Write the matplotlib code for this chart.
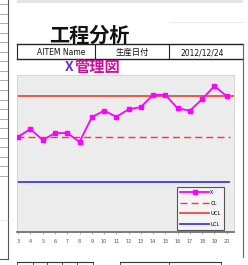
import numpy as np
import matplotlib
matplotlib.use('Agg')
import matplotlib.pyplot as plt
from matplotlib.lines import Line2D
from matplotlib.patches import Rectangle

plt.rcParams['font.family'] = ['Noto Sans CJK JP', 'DejaVu Sans']

# data
sample_no = [3, 4, 5, 6, 7, 8, 9, 10, 11, 12, 13, 14, 15, 16, 17, 18, 19, 20]
x_vals = [20.2, 21.9, 19.4, 21.0, 21.0, 19.0, 24.6, 26.1, 24.7,
          26.4, 26.9, 29.7, 29.7, 26.6, 26.1, 28.7, 31.7, 29.4]
ucl = 29.4
cl = 20.0
lcl = 9.9

W, H = 248, 265

def fx(x):
    return x / W

def fy(y):
    return 1 - y / H

def hline(fig, x0, x1, y, **kw):
    fig.add_artist(Line2D([fx(x0), fx(x1)], [fy(y), fy(y)], **kw))

def vline(fig, x, y0, y1, **kw):
    fig.add_artist(Line2D([fx(x), fx(x)], [fy(y0), fy(y1)], **kw))

fig = plt.figure(figsize=(W / 100, H / 100), dpi=100)
fig.patch.set_facecolor('white')

# spreadsheet bits around the chart
for yy in np.arange(4, 180, 9.55):
    hline(fig, 0, 8, yy, color='#9a9a9a', lw=0.6)
vline(fig, 8, 0, 259, color='#555555', lw=0.8)
hline(fig, 0, 8, 259, color='#555555', lw=0.8)
hline(fig, 0, 8, 220, color='#bbbbbb', lw=0.5, ls=':')
fig.add_artist(Rectangle((fx(17), fy(3)), fx(226), 3 / H, color='#e4e4e4', lw=0))
hline(fig, 170, 243, 22, color='#e6e6e6', lw=0.6)

# title + header table
fig.text(fx(49), fy(35), '工程分析', fontsize=14.5, fontweight='bold',
         ha='left', va='center', color='#111111')
hline(fig, 17, 243, 44, color='#222222', lw=1.0)
hline(fig, 17, 243, 59, color='#222222', lw=1.0)
vline(fig, 17, 44, 59, color='#222222', lw=0.8)
vline(fig, 95, 44, 59, color='#222222', lw=0.8)
vline(fig, 169, 44, 59, color='#222222', lw=0.8)
vline(fig, 243, 44, 257, color='#666666', lw=0.8)
fig.text(fx(61), fy(52.5), 'AITEM Name', fontsize=5.5, ha='center', va='center',
         family=['Liberation Sans Narrow', 'DejaVu Sans'], color='#111111')
fig.text(fx(132), fy(52), '生産日付', fontsize=6, ha='center', va='center', color='#111111')
fig.text(fx(202), fy(52.5), '2012/12/24', fontsize=5.5, ha='center', va='center',
         family=['Liberation Sans Narrow', 'DejaVu Sans'], color='#111111')

# chart subtitle
fig.text(fx(74), fy(67), 'X', fontsize=10, fontweight='bold', ha='right',
         va='center', color='#6633cc')
fig.text(fx(75), fy(67), '管理図', fontsize=11, fontweight='bold', ha='left',
         va='center', color='#cc1199')

# plot area
ax = fig.add_axes([fx(17), fy(232), (234 - 17) / W, (232 - 75) / H])
ax.set_facecolor('#ececec')
idx = np.arange(len(sample_no))
ax.plot(idx, x_vals, color='#ff00ff', lw=1.3, marker='s', ms=3.4,
        mec='#ff00ff', mfc='#ff00ff', label='X', zorder=5)
ax.plot([-0.1, 17.3], [cl, cl], color='#ff3344', lw=1.0, ls=(0, (5, 3)), label='CL')
ax.plot([-1, len(idx)], [ucl, ucl], color='#f04a3a', lw=1.3, label='UCL')
ax.plot([-1, 17.2], [lcl, lcl], color='#3a3ae8', lw=1.3, label='LCL')
ax.set_xlim(-0.1, 17.6)
ax.set_ylim(-1.5, 34.2)
ax.set_yticks([])
ax.set_xticks(idx)
ax.set_xticklabels([str(s) for s in sample_no], fontsize=3.5, color='#555555',
                   family='DejaVu Sans')
ax.tick_params(axis='x', length=1.5, width=0.5, pad=3.5, color='#888888')
for s in ['top', 'right', 'left']:
    ax.spines[s].set_color('#d0d0d0')
    ax.spines[s].set_linewidth(0.6)
ax.spines['bottom'].set_color('#666666')
ax.spines['bottom'].set_linewidth(1.2)

leg = ax.legend(loc='lower left', bbox_to_anchor=(fx(177), fy(230)),
                bbox_transform=fig.transFigure, fontsize=4, handlelength=5.2,
                handletextpad=0.2, borderpad=0.6, labelspacing=1.0,
                fancybox=False, framealpha=1, borderaxespad=0)
leg.get_frame().set_edgecolor('#555555')
leg.get_frame().set_facecolor('#f4f4f4')
leg.get_frame().set_linewidth(0.8)

# bits of the table below
hline(fig, 17, 93, 262, color='#333333', lw=0.8)
for xx in [17, 33, 47, 62, 77, 93]:
    vline(fig, xx, 262, 265, color='#333333', lw=0.6)
hline(fig, 120, 221, 262, color='#333333', lw=0.8)
for xx in [120, 169, 221]:
    vline(fig, xx, 262, 265, color='#333333', lw=0.6)

fig.savefig('out.png', dpi=100)
